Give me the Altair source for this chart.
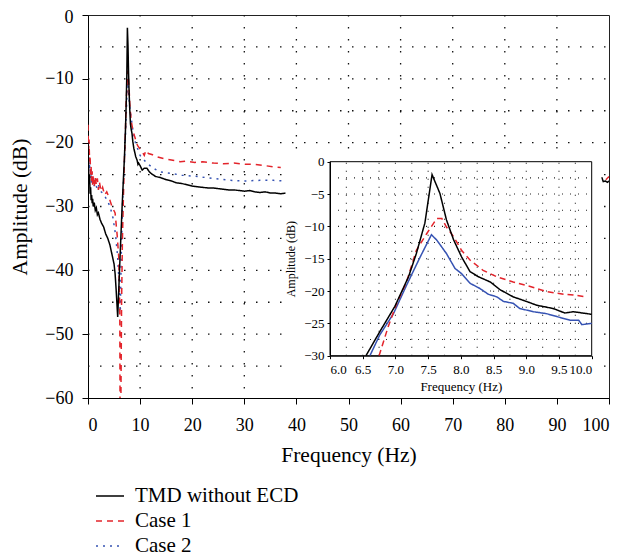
import altair as alt
import pandas as pd

FONT = "Liberation Serif"

series_names = ["TMD without ECD", "Case 1", "Case 2"]
series_colors = ["#000000", "#e3242b", "#3653b3"]
series_dash_main = [[1, 0], [6, 5], [2, 5]]

# ---- main plot (frequency Hz, amplitude dB) ----
tmd_main = [(0.0, -20.0), (0.1, -24.0), (0.2, -26.5), (0.3, -25.0), (0.4, -28.0), (0.5, -27.0),
            (0.6, -29.0), (0.7, -28.2), (0.8, -29.5), (0.9, -28.8), (1.0, -30.0), (1.2, -29.4),
            (1.4, -30.6), (1.6, -30.2), (1.8, -31.3), (2.0, -31.0), (2.3, -32.0), (2.6, -32.6),
            (3.0, -33.2), (3.4, -34.3), (3.8, -35.0), (4.2, -36.0), (4.6, -37.5), (5.0, -39.0),
            (5.2, -40.5), (5.4, -43.0), (5.7, -47.3), (6.1, -39.0), (6.55, -30.0), (6.76, -26.3),
            (6.99, -22.4), (7.2, -17.8), (7.32, -14.2), (7.45, -9.5), (7.56, -2.0), (7.68, -4.9),
            (7.78, -9.0), (7.89, -12.1), (8.01, -14.7), (8.14, -17.0), (8.27, -17.8), (8.45, -18.6),
            (8.6, -19.8), (8.8, -20.9), (9.0, -21.6), (9.16, -22.2), (9.41, -22.7), (9.59, -23.4),
            (9.72, -23.2), (10.0, -23.6), (10.4, -24.3), (10.8, -24.0), (11.3, -24.0), (11.8, -24.6),
            (12.4, -25.0), (13, -25.3), (14, -25.5), (15, -25.8), (16, -26.0), (17, -26.3),
            (18, -26.4), (19, -26.6), (20, -26.8), (21, -26.9), (22, -27.0), (23, -27.1),
            (24, -27.1), (25, -27.2), (26, -27.3), (27, -27.4), (28, -27.4), (29, -27.5),
            (30, -27.6), (31, -27.5), (32, -27.7), (33, -27.8), (34, -27.7), (35, -27.9),
            (36, -27.9), (37, -28.0), (38, -27.9)]
tmd_main_end = [(98.6, -25.4), (98.9, -26.1), (99.3, -26.0), (99.7, -26.2), (100.0, -26.0)]

case1_main = [(0.0, -17.2), (0.1, -21.9), (0.2, -19.5), (0.3, -23.0), (0.4, -22.0), (0.5, -25.0),
              (0.6, -23.8), (0.7, -26.0), (0.8, -24.5), (0.9, -26.8), (1.0, -25.0), (1.2, -27.0),
              (1.4, -25.3), (1.6, -26.6), (1.8, -25.6), (2.0, -27.4), (2.2, -26.2), (2.5, -27.6),
              (2.8, -27.0), (3.2, -28.2), (3.6, -27.7), (4.0, -28.5), (4.6, -30.0), (5.2, -31.0),
              (5.6, -34.5), (5.9, -37.9), (6.1, -46.0), (6.2, -75.0), (6.3, -62.0), (6.45, -45.0),
              (6.6, -35.5), (6.75, -30.0), (6.89, -25.5), (7.02, -21.9), (7.17, -18.6), (7.32, -13.7),
              (7.48, -11.1), (7.63, -8.8), (7.71, -8.8), (7.78, -10.1), (7.89, -11.6), (8.01, -13.7),
              (8.14, -15.2), (8.34, -16.8), (8.55, -17.8), (8.75, -18.5), (9.06, -19.3), (9.31, -20.1),
              (9.57, -20.5), (9.9, -20.9), (10.4, -21.4), (10.8, -22.0), (11.1, -21.2), (11.6, -21.7),
              (12.4, -21.9), (13.2, -22.2), (14.5, -22.5), (16, -22.7), (17.7, -23.0), (19, -22.9),
              (20.5, -23.1), (22, -23.0), (24.1, -23.2), (26, -23.3), (28, -23.2), (30.5, -23.4),
              (32, -23.4), (34, -23.6), (35.6, -23.8), (37, -23.9)]
case1_main_end = [(99.4, -25.8), (100.0, -25.3)]

case2_main = [(0.0, -20.0), (0.1, -22.5), (0.2, -21.5), (0.3, -24.3), (0.4, -23.0), (0.5, -25.5),
              (0.6, -24.2), (0.7, -26.4), (0.8, -25.0), (0.9, -26.5), (1.0, -25.5), (1.2, -26.8),
              (1.4, -25.8), (1.7, -27.2), (2.0, -26.6), (2.4, -27.6), (2.8, -27.9), (3.3, -28.5),
              (3.8, -29.2), (4.3, -30.2), (4.8, -31.8), (5.3, -34.5), (5.7, -38.0), (6.0, -42.5),
              (6.2, -46.5), (6.4, -37.0), (6.61, -30.0), (6.76, -26.8), (6.97, -23.5), (7.17, -19.1),
              (7.38, -14.7), (7.58, -10.0), (7.8, -12.5), (8.1, -15.0), (8.6, -18.0), (9.1, -20.0),
              (10.0, -22.0), (11.3, -23.2), (12.5, -24.0), (13.9, -24.6), (15.8, -24.8), (18, -25.1),
              (21, -25.3), (24, -25.6), (27.3, -25.9), (30, -26.0), (33, -25.9), (35.6, -25.9),
              (37.8, -26.0)]

# ---- inset (zoom 6-10 Hz) ----
tmd_inset = [(6.55, -30.0), (6.76, -26.3), (6.99, -22.4), (7.2, -17.8), (7.32, -14.2), (7.45, -9.5),
             (7.56, -2.0), (7.68, -4.9), (7.78, -9.0), (7.89, -12.1), (8.01, -14.7), (8.14, -17.0),
             (8.27, -17.8), (8.45, -18.6), (8.6, -19.8), (8.8, -20.9), (9.0, -21.6), (9.16, -22.2),
             (9.41, -22.7), (9.59, -23.4), (9.72, -23.2), (10.0, -23.6)]
case1_inset = [(6.75, -30.0), (6.89, -25.5), (7.02, -21.9), (7.17, -18.6), (7.32, -13.7), (7.48, -11.1),
               (7.63, -8.8), (7.71, -8.8), (7.78, -10.1), (7.89, -11.6), (8.01, -13.7), (8.14, -15.2),
               (8.34, -16.8), (8.55, -17.8), (8.8, -18.6), (9.06, -19.3), (9.31, -20.1), (9.57, -20.5),
               (9.72, -20.6), (9.9, -20.9)]
case2_inset = [(6.61, -30.0), (6.76, -26.8), (6.97, -23.5), (7.17, -19.1), (7.38, -14.7), (7.55, -11.3),
               (7.63, -12.1), (7.78, -14.2), (7.91, -16.5), (8.01, -17.3), (8.14, -18.8), (8.29, -19.6),
               (8.42, -20.5), (8.55, -20.9), (8.65, -21.6), (8.8, -21.9), (8.9, -22.7), (9.11, -23.2),
               (9.31, -23.5), (9.52, -24.1), (9.67, -24.5), (9.8, -24.5), (9.85, -25.2), (10.0, -25.0)]

inset_x_grid = [6.25, 6.5, 6.75, 7.0, 7.25, 7.5, 7.75, 8.0, 8.25, 8.5, 8.75, 9.0, 9.25, 9.5, 9.75]
inset_y_grid = [-27.5, -25, -22.5, -20, -17.5, -15, -12.5, -10, -7.5, -5, -2.5]
main_x_grid = [10, 20, 30, 40, 50, 60, 70, 80, 90]
main_y_grid = [-55, -50, -45, -40, -35, -30, -25, -20, -15, -10, -5]

# ---------- build tables ----------
rows = []
for name, seg, pts in [("Case 2", "c2a", case2_main),
                       ("Case 1", "c1a", case1_main), ("Case 1", "c1b", case1_main_end),
                       ("TMD without ECD", "ta", tmd_main), ("TMD without ECD", "tb", tmd_main_end)]:
    for f, a in pts:
        rows.append({"series": name, "seg": seg, "f": f, "a": a})
main_df = pd.DataFrame(rows)

W, H = 521, 383

x_main = alt.Scale(domain=[0, 100], nice=False, zero=False)
y_main = alt.Scale(domain=[-60, 0], nice=False, zero=False)

legend_kw = dict(title=None, orient="none", legendX=7, legendY=466, symbolType="stroke",
                 symbolSize=784, symbolStrokeWidth=1.5, labelFont=FONT, labelFontSize=21,
                 labelColor="black", labelOffset=10, labelLimit=400, rowPadding=-1, padding=0)

main_lines = alt.Chart(main_df).mark_line(clip=True, strokeWidth=1.5).encode(
    x=alt.X("f:Q", scale=x_main, axis=alt.Axis(
        title="Frequency (Hz)", values=list(range(0, 101, 5)),
        labelExpr="datum.value % 10 === 0 ? datum.label : ''",
        grid=False, tickSize=6, tickColor="black", domainColor="black",
        labelFont=FONT, labelFontSize=18, labelColor="black", labelPadding=12,
        titleFont=FONT, titleFontSize=21.5, titleFontWeight="normal", titleColor="black",
        titlePadding=10)),
    y=alt.Y("a:Q", scale=y_main, axis=alt.Axis(
        title="Amplitude (dB)", values=list(range(-60, 1, 5)),
        labelExpr="datum.value % 10 === 0 ? datum.label : ''",
        labelOffset={"condition": {"test": "datum.value === 0", "value": 2}, "value": 0},
        grid=False, tickSize=6, tickColor="black", domainColor="black",
        labelFont=FONT, labelFontSize=18, labelColor="black", labelPadding=9,
        titleFont=FONT, titleFontSize=21.5, titleFontWeight="normal", titleColor="black",
        titlePadding=13)),
    color=alt.Color("series:N", scale=alt.Scale(domain=series_names, range=series_colors),
                    legend=alt.Legend(**legend_kw)),
    strokeDash=alt.StrokeDash("series:N", scale=alt.Scale(domain=series_names, range=series_dash_main),
                              legend=alt.Legend(**legend_kw)),
    detail="seg:N",
)

vgrid = alt.Chart(pd.DataFrame({"g": main_x_grid})).mark_rule(
    strokeDash=[1.5, 10.5], color="#111", strokeWidth=1.3).encode(
    x=alt.X("g:Q", scale=x_main),
    y=alt.datum(0, scale=y_main), y2=alt.datum(-60))
hgrid = alt.Chart(pd.DataFrame({"g": main_y_grid})).mark_rule(
    strokeDash=[1.5, 10.5], color="#111", strokeWidth=1.3).encode(
    y=alt.Y("g:Q", scale=y_main),
    x=alt.datum(0, scale=x_main), x2=alt.datum(100))

cover = alt.Chart(pd.DataFrame({"x": [37.9], "x2": [98.5], "y": [-21.5], "y2": [-59.8]})).mark_rect(
    fill="white").encode(x=alt.X("x:Q", scale=x_main), x2="x2:Q",
                         y=alt.Y("y:Q", scale=y_main), y2="y2:Q")

main = alt.layer(vgrid, hgrid, main_lines, cover)

# ---------- inset ----------
ix0, ix1 = 242, 503.7
iy_bottom, iy_top = 340.7, 146.7
x_in = alt.Scale(domain=[6, 10], range=[ix0, ix1], nice=False, zero=False)
y_in = alt.Scale(domain=[-30, 0], range=[iy_bottom, iy_top], nice=False, zero=False)

inset_x_axis = alt.Axis(orient="bottom", offset=iy_bottom - H, title="Frequency (Hz)",
                        values=[6.0, 6.5, 7.0, 7.5, 8.0, 8.5, 9.0, 9.5, 10.0], format=".1f",
                        grid=False, tickSize=3, tickColor="black", domainColor="black",
                        labelFont=FONT, labelFontSize=13, labelColor="black", labelPadding=5,
                        titleFont=FONT, titleFontSize=13, titleFontWeight="normal",
                        titleColor="black", titlePadding=4, zindex=1)
inset_y_axis = alt.Axis(orient="left", offset=-ix0, title="Amplitude (dB)",
                        values=[-30, -25, -20, -15, -10, -5, 0],
                        grid=False, tickSize=3, tickColor="black", domainColor="black",
                        labelFont=FONT, labelFontSize=13, labelColor="black", labelPadding=3,
                        titleFont=FONT, titleFontSize=12, titleFontWeight="normal",
                        titleColor="black", titlePadding=6, zindex=1)

inset_bg = alt.Chart(pd.DataFrame({"x": [6], "x2": [10], "y": [-30], "y2": [0]})).mark_rect(
    fill="white", stroke="black", strokeWidth=1).encode(
    x=alt.X("x:Q", scale=x_in, axis=inset_x_axis), x2="x2:Q",
    y=alt.Y("y:Q", scale=y_in, axis=inset_y_axis), y2="y2:Q")

igx = alt.Chart(pd.DataFrame({"g": inset_x_grid})).mark_rule(
    strokeDash=[1, 7], color="#222", strokeWidth=1.1).encode(
    x=alt.X("g:Q", scale=x_in), y=alt.datum(-30, scale=y_in), y2=alt.datum(0))
igy = alt.Chart(pd.DataFrame({"g": inset_y_grid})).mark_rule(
    strokeDash=[1, 7], color="#222", strokeWidth=1.1).encode(
    y=alt.Y("g:Q", scale=y_in), x=alt.datum(6, scale=x_in), x2=alt.datum(10))


def inset_line(pts, color, dash):
    df = pd.DataFrame(pts, columns=["f", "a"])
    return alt.Chart(df).mark_line(strokeWidth=1.5, color=color, strokeDash=dash).encode(
        x=alt.X("f:Q", scale=x_in), y=alt.Y("a:Q", scale=y_in))


inset = alt.layer(
    inset_bg, igx, igy,
    inset_line(case2_inset, series_colors[2], [1, 0]),
    inset_line(case1_inset, series_colors[1], [6, 4]),
    inset_line(tmd_inset, series_colors[0], [1, 0]),
)

chart = alt.layer(main, inset).resolve_scale(x="independent", y="independent").properties(
    width=W, height=H,
    padding={"left": 80, "top": 7, "right": 8, "bottom": 160},
    autosize=alt.AutoSizeParams(type="none"),
).configure_view(stroke="#222", strokeWidth=1)

chart.save("out.html", embed_options={"renderer": "svg", "actions": False})
